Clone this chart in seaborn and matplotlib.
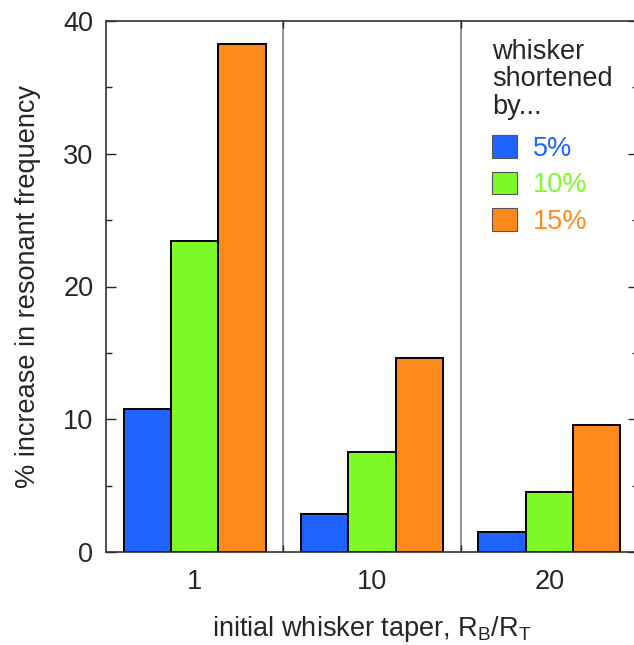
import matplotlib
matplotlib.use("Agg")
import matplotlib.pyplot as plt
import seaborn as sns
import pandas as pd
from matplotlib.ticker import MultipleLocator, FixedLocator

tapers = ["1", "10", "20"]
shortenings = ["5%", "10%", "15%"]
vals_5 = [10.8, 2.9, 1.5]
vals_10 = [23.4, 7.5, 4.5]
vals_15 = [38.3, 14.6, 9.6]
colors = ["#1f64ff", "#7ff827", "#ff8a1c"]

rows = []
for s, vals in zip(shortenings, [vals_5, vals_10, vals_15]):
    for t, v in zip(tapers, vals):
        rows.append({"taper": t, "shortening": s, "value": v})
df = pd.DataFrame(rows)

sns.set_style("ticks")
plt.rcParams["font.family"] = ["Liberation Sans", "DejaVu Sans"]
plt.rcParams["mathtext.fontset"] = "custom"
plt.rcParams["mathtext.rm"] = "Liberation Sans"

FS = 19.5

fig = plt.figure(figsize=(6.34, 6.45), dpi=100)
W, H = 634, 645
ax = fig.add_axes([106 / W, 1 - 552 / H, (638 - 106) / W, (552 - 21) / H])

sns.barplot(data=df, x="taper", y="value", hue="shortening",
            order=tapers, hue_order=shortenings, palette=colors,
            edgecolor="black", linewidth=1.4, saturation=1, ax=ax)

ax.set_xlim(-0.5, 2.5)
ax.set_ylim(0, 40)
for xs in [0.5, 1.5]:
    ax.axvline(xs, color="#888888", lw=1.3, zorder=0)

ax.yaxis.set_major_locator(MultipleLocator(10))
ax.yaxis.set_minor_locator(MultipleLocator(5))
ax.tick_params(axis="y", which="both", direction="in", right=True, left=True,
               labelsize=FS, pad=9)
ax.tick_params(axis="y", which="major", length=7, width=1)
ax.tick_params(axis="y", which="minor", length=4, width=1)
ax.xaxis.set_minor_locator(FixedLocator([0.5, 1.5]))
ax.tick_params(axis="x", which="major", length=0, labelsize=FS, pad=12)
ax.tick_params(axis="x", which="minor", direction="in", length=5, width=1,
               top=True, bottom=True)
for sp in ax.spines.values():
    sp.set_color("#333333")
    sp.set_linewidth(1.2)

ax.set_xlabel("initial whisker taper, R$_{\\rm B}$/R$_{\\rm T}$", fontsize=FS,
              labelpad=14)
ax.set_ylabel("% increase in resonant frequency", fontsize=FS, labelpad=16)

handles, labels = ax.get_legend_handles_labels()
leg = ax.legend(handles, labels, title="whisker\nshortened\nby...",
                loc="upper left", bbox_to_anchor=(0.7256, 0.966),
                frameon=False, fontsize=FS, title_fontsize=FS,
                handlelength=0.92, handleheight=0.92, labelspacing=0.36,
                handletextpad=0.6, borderpad=0, borderaxespad=0,
                alignment="left")
leg.get_title().set_linespacing(1.07)
leg._legend_box.sep = 11
for txt, c in zip(leg.get_texts(), colors):
    txt.set_color(c)
for h in leg.legend_handles:
    h.set_edgecolor("#555555")
    h.set_linewidth(0.8)

fig.savefig("out.png", dpi=100)
